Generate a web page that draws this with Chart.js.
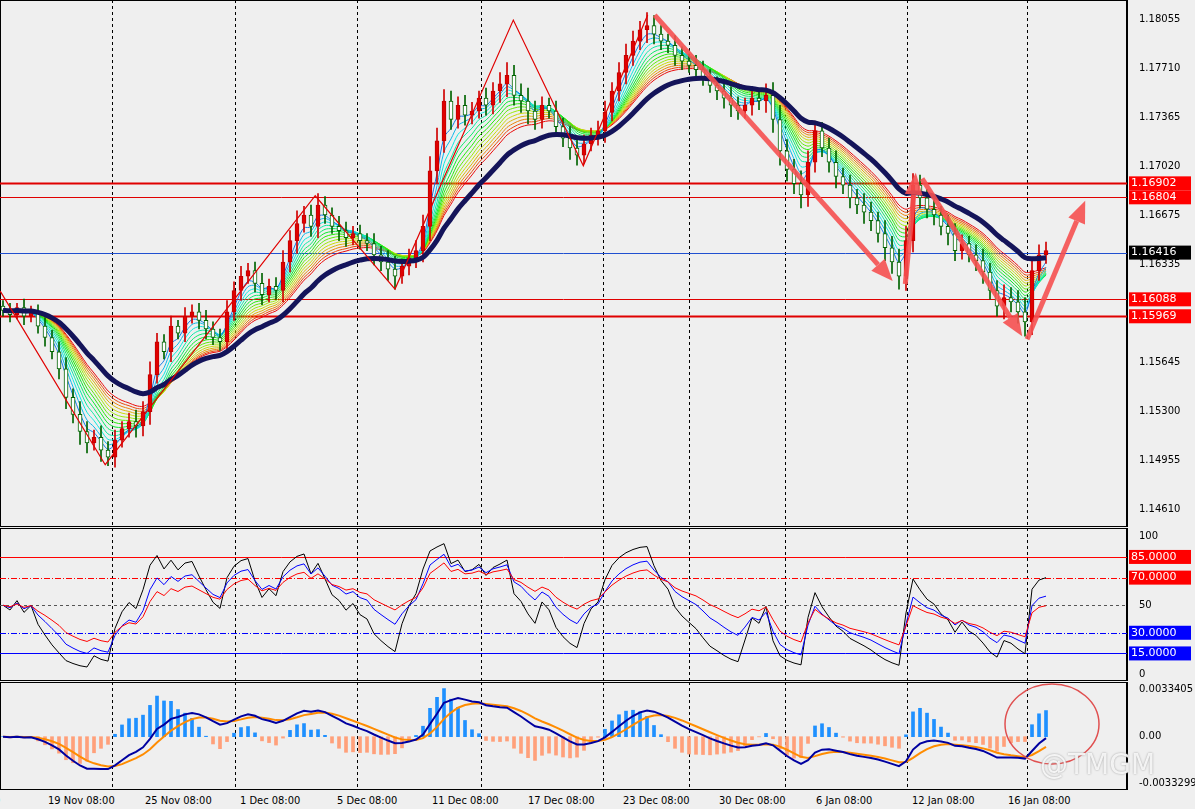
<!DOCTYPE html>
<html><head><meta charset="utf-8">
<script src="https://cdn.jsdelivr.net/npm/chart.js@4.4.1/dist/chart.umd.min.js"></script>
<style>
body{margin:0;background:#efefef;width:1195px;height:809px;overflow:hidden;font-family:Tahoma,"DejaVu Sans",sans-serif}
.c{position:absolute;left:0;width:1195px}
#dates{position:absolute;left:0;top:794px;width:1195px;height:15px;font:11px "DejaVu Sans Condensed","DejaVu Sans";color:#000}
#dates span{position:absolute;top:0;white-space:nowrap}
#wm{position:absolute;left:1040px;top:748px;font:28px "DejaVu Sans";color:rgba(255,255,255,0.85);text-shadow:0 0 2px #999}
</style></head><body>
<div class="c" style="top:0;height:527px"><canvas id="main"></canvas></div>
<div class="c" style="top:528px;height:153px"><canvas id="rsi"></canvas></div>
<div class="c" style="top:682px;height:108px"><canvas id="macd"></canvas></div>
<div id="dates"></div>
<div id="wm">@TMGM</div>
<script>
const closes=[1.1601,1.1598,1.1603,1.1597,1.1600,1.1590,1.1582,1.1572,1.1560,1.1540,
1.1528,1.1516,1.1508,1.1512,1.1503,1.1498,1.1510,1.1518,1.1523,1.1520,
1.1530,1.1556,1.1579,1.1572,1.1590,1.1585,1.1597,1.1600,1.1594,1.1588,
1.1582,1.1579,1.1600,1.1615,1.1625,1.1629,1.1620,1.1612,1.1618,1.1615,
1.1635,1.1650,1.1662,1.1668,1.1660,1.1675,1.1668,1.1660,1.1657,1.1652,
1.1655,1.1650,1.1648,1.1640,1.1635,1.1630,1.1625,1.1632,1.1638,1.1643,
1.1660,1.1699,1.1720,1.1748,1.1735,1.1745,1.1738,1.1741,1.1750,1.1745,
1.1755,1.1760,1.1766,1.1752,1.1748,1.1741,1.1735,1.1745,1.1741,1.1730,
1.1722,1.1715,1.1710,1.1718,1.1724,1.1727,1.1740,1.1755,1.1768,1.1780,
1.1790,1.1798,1.1801,1.1795,1.1790,1.1787,1.1780,1.1776,1.1773,1.1770,
1.1765,1.1759,1.1755,1.1750,1.1745,1.1741,1.1745,1.1750,1.1748,1.1752,
1.1735,1.1713,1.1700,1.1690,1.1682,1.1705,1.1727,1.1715,1.1705,1.1695,
1.1689,1.1680,1.1675,1.1670,1.1664,1.1655,1.1645,1.1635,1.1625,1.1650,
1.1689,1.1680,1.1672,1.1668,1.1660,1.1655,1.1643,1.1648,1.1640,1.1636,
1.1628,1.1615,1.1604,1.1610,1.1607,1.1600,1.1593,1.1629,1.1640,1.1643];
const wicks=[4,5,3,6,4,5,6,5,7,8,6,9,7,5,8,6,7,5,6,8,7,9,6,5,7,4,6,5,6,7,5,6,8,6,7,5,6,7,5,6,
8,7,9,6,7,8,6,5,7,6,5,6,5,7,6,8,9,5,6,7,8,10,9,8,7,6,7,6,5,7,6,8,9,7,8,9,7,6,5,7,
6,8,7,6,5,7,8,6,7,8,7,6,9,7,6,5,7,6,5,7,6,5,6,7,8,6,5,7,6,8,9,10,8,7,9,8,7,6,7,8,
6,7,6,8,7,6,9,8,9,10,8,7,6,7,6,8,7,6,5,7,8,6,7,9,7,8,10,9,7,6];
const ribbonPeriods=[3,4,5,6,7,8,9,10,11,12,13,14,15,16];
const slowPeriod=22;
const hLinesRed=[1.16902,1.16804,1.16088,1.15969];
const bidLine=1.16416;
const priceTicks=[1.18055,1.17710,1.17365,1.17020,1.16675,1.16335,1.15645,1.15300,1.14955,1.14610];
const rsiPeriods=[5,9,14];
const rsiLevels=[85,70,50,30,15];
const zigzag=[[-0.4,1.16146],[14.6,1.14927],[44.6,1.16815],[56,1.16160],[72.9,1.18048],[82.9,1.17026],[92.1,1.18083]];
const arrows=[[[93.1,1.18083],[127.1,1.16216]],[[128.9,1.16195],[130.4,1.16977]],[[131.3,1.16935],[145.6,1.15829]],[[146.3,1.15808],[154.6,1.16780]]];
const gridIdx=[15.6,33.1,50.6,68.3,85.7,98,111.7,129.1,146.3];
const dateLabels=["8:00","19 Nov 08:00","25 Nov 08:00","1 Dec 08:00","5 Dec 08:00","11 Dec 08:00","17 Dec 08:00","23 Dec 08:00","30 Dec 08:00","6 Jan 08:00","12 Jan 08:00","16 Jan 08:00"];
const dateX=[-22,48,145,240,337,432,528,623,719,816,912,1008];

const N=closes.length, XMIN=-0.43, XMAX=160.57;
const opens=closes.map((c,i)=>i?closes[i-1]:c+0.0003);
function ema(a,p){const k=2/(p+1);let o=[],e=a[0];a.forEach((v,i)=>{e=i?v*k+e*(1-k):v;o.push(e)});return o}
function rsi(a,p){let o=[50],g=0.0005,l=0.0005;for(let i=1;i<a.length;i++){const d=a[i]-a[i-1];const up=Math.max(d,0),dn=Math.max(-d,0);g=(g*(p-1)+up)/p;l=(l*(p-1)+dn)/p;o.push(l==0?100:100-100/(1+g/l))}return o}
const pts=a=>a.map((v,i)=>({x:i,y:v}));
const W=68;
const fitY=s=>{s.width=W;s.paddingTop=0;s.paddingBottom=0};
const yAxisBase={position:'right',afterFit:fitY,grid:{display:false},border:{color:'#000'},ticks:{color:'#000',font:{family:'DejaVu Sans',size:10},padding:4}};
const xAxisBase={type:'linear',min:XMIN,max:XMAX,display:false,offset:false};
const vgrid={id:'vg',beforeDatasetsDraw(c){const {ctx,chartArea:a,scales:{x}}=c;ctx.save();ctx.strokeStyle='#000';ctx.setLineDash([3,3]);ctx.lineWidth=1;gridIdx.forEach(g=>{const px=Math.round(x.getPixelForValue(g))+0.5;ctx.beginPath();ctx.moveTo(px,a.top);ctx.lineTo(px,a.bottom);ctx.stroke()});ctx.restore();ctx.save();ctx.strokeStyle='#000';ctx.lineWidth=1;ctx.strokeRect(a.left+0.5,a.top+0.5,a.right-a.left-1,a.bottom-a.top-1);ctx.restore()}};
function label(ctx,txt,x,y,bg){ctx.font='11px DejaVu Sans';const w=62;ctx.fillStyle=bg;ctx.fillRect(x+2,y-7,w,14);ctx.fillStyle='#fff';ctx.textBaseline='middle';ctx.fillText(txt,x+4,y)}
const lay={padding:0};

const ds=[];
ds.push({type:'bar',data:closes.map((c,i)=>({x:i,y:[Math.min(c,opens[i])-wicks[i]*0.0001,Math.max(c,opens[i])+wicks[i]*0.0001]})),backgroundColor:closes.map((c,i)=>c>=opens[i]?'#d00000':'#006400'),barThickness:1,grouped:false,order:5});
ds.push({type:'bar',data:closes.map((c,i)=>({x:i,y:[opens[i],c]})),backgroundColor:closes.map((c,i)=>c>=opens[i]?'#e00000':'#ffffff'),borderColor:closes.map((c,i)=>c>=opens[i]?'#c00000':'#006400'),borderWidth:1,borderSkipped:false,barThickness:4,grouped:false,order:4});
ribbonPeriods.forEach((p,j)=>{const h=210-j*(210/(ribbonPeriods.length-1));ds.push({type:'line',data:pts(ema(closes,p)),borderColor:`hsl(${h},90%,${h>40&&h<80?45:48}%)`,borderWidth:1,pointRadius:0,tension:0.3,order:6})});
ds.push({type:'line',data:pts(ema(closes,slowPeriod)),borderColor:'#14145a',borderWidth:5,pointRadius:0,tension:0.3,order:3});
const anno={id:'anno',beforeDatasetsDraw(c){const {ctx,chartArea:a,scales:{x,y}}=c;ctx.save();ctx.strokeStyle='#e00000';hLinesRed.forEach((v,k)=>{ctx.lineWidth=(k==0||k==3)?2:1;const py=Math.round(y.getPixelForValue(v))+0.5;ctx.beginPath();ctx.moveTo(a.left,py);ctx.lineTo(a.right,py);ctx.stroke()});ctx.lineWidth=1;ctx.strokeStyle='#2050d0';const by=Math.round(y.getPixelForValue(bidLine))+0.5;ctx.beginPath();ctx.moveTo(a.left,by);ctx.lineTo(a.right,by);ctx.stroke();ctx.restore()},
afterDatasetsDraw(c){const {ctx,chartArea:a,scales:{x,y}}=c;ctx.save();ctx.strokeStyle='#e00000';ctx.lineWidth=1.2;ctx.beginPath();zigzag.forEach((p,k)=>{const px=x.getPixelForValue(p[0]),py=y.getPixelForValue(p[1]);k?ctx.lineTo(px,py):ctx.moveTo(px,py)});ctx.stroke();
ctx.strokeStyle='rgba(245,80,80,0.9)';ctx.fillStyle='rgba(245,80,80,0.9)';ctx.lineWidth=5;arrows.forEach(([p,q])=>{const x1=x.getPixelForValue(p[0]),y1=y.getPixelForValue(p[1]),x2=x.getPixelForValue(q[0]),y2=y.getPixelForValue(q[1]);const an=Math.atan2(y2-y1,x2-x1);const L=22;const bx=x2-L*Math.cos(an),by=y2-L*Math.sin(an);ctx.beginPath();ctx.moveTo(x1,y1);ctx.lineTo(bx,by);ctx.stroke();ctx.beginPath();ctx.moveTo(x2,y2);ctx.lineTo(bx+9*Math.sin(an),by-9*Math.cos(an));ctx.lineTo(bx-9*Math.sin(an),by+9*Math.cos(an));ctx.closePath();ctx.fill()});ctx.restore();
ctx.save();hLinesRed.forEach(v=>label(ctx,v.toFixed(5),a.right,y.getPixelForValue(v),'#ff0000'));label(ctx,bidLine.toFixed(5),a.right,y.getPixelForValue(bidLine),'#000');ctx.restore()}};
new Chart(document.getElementById('main'),{data:{datasets:ds},options:{animation:false,responsive:true,maintainAspectRatio:false,layout:lay,plugins:{legend:{display:false},tooltip:{enabled:false}},
scales:{x:xAxisBase,y:{...yAxisBase,min:1.14490,max:1.18189,afterBuildTicks:s=>{s.ticks=priceTicks.map(v=>({value:v}))},ticks:{...yAxisBase.ticks,callback:v=>v.toFixed(5)}}}},plugins:[vgrid,anno]});

const rsiColors=['#000000','#0000ff','#ff0000'];
const rds=rsiPeriods.map((p,k)=>({type:'line',data:pts(rsi(closes,p)),borderColor:rsiColors[k],borderWidth:1,pointRadius:0,order:3-k}));
const rsiLv={id:'rl',beforeDatasetsDraw(c){const {ctx,chartArea:a,scales:{y}}=c;ctx.save();const st=[['#ff0000',[]],['#ff0000',[6,2,1,2]],['#555',[3,3]],['#0000ff',[6,2,1,2]],['#0000ff',[]]];rsiLevels.forEach((v,k)=>{ctx.strokeStyle=st[k][0];ctx.setLineDash(st[k][1]);ctx.lineWidth=1;const py=Math.round(y.getPixelForValue(v))+0.5;ctx.beginPath();ctx.moveTo(a.left,py);ctx.lineTo(a.right,py);ctx.stroke()});ctx.restore()},
afterDatasetsDraw(c){const {ctx,chartArea:a,scales:{y}}=c;[85,70].forEach(v=>label(ctx,v.toFixed(4),a.right,y.getPixelForValue(v),'#ff0000'));[30,15].forEach(v=>label(ctx,v.toFixed(4),a.right,y.getPixelForValue(v),'#0000ff'))}};
new Chart(document.getElementById('rsi'),{data:{datasets:rds},options:{animation:false,responsive:true,maintainAspectRatio:false,layout:lay,plugins:{legend:{display:false},tooltip:{enabled:false}},
scales:{x:xAxisBase,y:{...yAxisBase,min:-5,max:106,afterBuildTicks:s=>{s.ticks=[100,50,0].map(v=>({value:v}))}}}},plugins:[vgrid,rsiLv]});

const m=ema(closes,6).map((v,i)=>v-ema(closes,13)[i]);
const sig=ema(m,5);
const hist=m.map((v,i)=>(v-sig[i])*3);
const mds=[{type:'bar',data:pts(hist),backgroundColor:hist.map(v=>v>=0?'#1e90ff':'#ffa07a'),barThickness:3,order:3},
{type:'line',data:pts(m),borderColor:'#0000a0',borderWidth:2,pointRadius:0,order:1},
{type:'line',data:pts(sig),borderColor:'#ff8c00',borderWidth:2,pointRadius:0,order:2}];
const circ={id:'circ',afterDatasetsDraw(c){const ctx=c.ctx;ctx.save();ctx.strokeStyle='#e05050';ctx.lineWidth=1.5;ctx.beginPath();ctx.ellipse(1052,42,47,40,0,0,Math.PI*2);ctx.stroke();ctx.restore()}};
new Chart(document.getElementById('macd'),{data:{datasets:mds},options:{animation:false,responsive:true,maintainAspectRatio:false,layout:lay,plugins:{legend:{display:false},tooltip:{enabled:false}},
scales:{x:xAxisBase,y:{...yAxisBase,min:-0.0038,max:0.0039,afterBuildTicks:s=>{s.ticks=[0.0033405,0,-0.0033299].map(v=>({value:v}))},ticks:{...yAxisBase.ticks,callback:v=>v==0?'0.00':String(v)}}}},plugins:[vgrid,circ]});

const dd=document.getElementById('dates');
dateLabels.forEach((t,k)=>{const s=document.createElement('span');s.textContent=t;s.style.left=dateX[k]+'px';dd.appendChild(s)});
</script></body></html>
